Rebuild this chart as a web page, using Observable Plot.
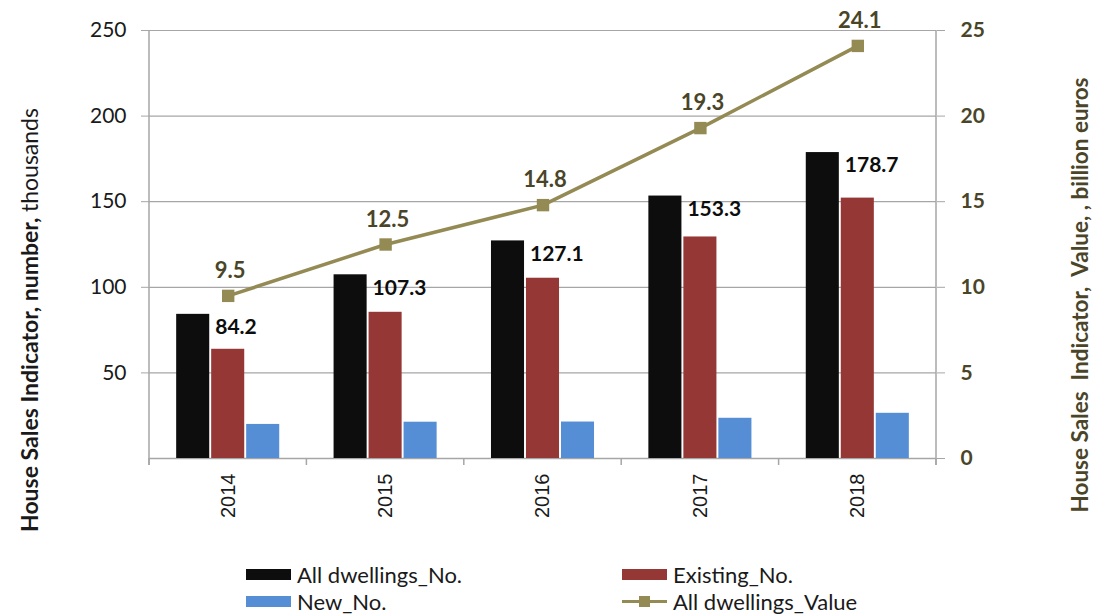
<!DOCTYPE html>
<html>
<head>
<meta charset="utf-8">
<script src="https://cdn.jsdelivr.net/npm/d3@7"></script>
<script src="https://cdn.jsdelivr.net/npm/@observablehq/plot@0.6"></script>
<style>
  html, body { margin: 0; padding: 0; background: #fff; }
  #wrap { position: relative; width: 1094px; height: 614px; overflow: hidden; }
  #legend { position: absolute; left: 0; top: 0; width: 1094px; height: 614px; pointer-events: none;
            font-family: Lato, "Open Sans", sans-serif; font-size: 22px; color: #1a1a1a; }
  .item { position: absolute; display: flex; align-items: center; height: 26px; }
  .sw { width: 45px; height: 11px; margin-right: 6px; }
  .ln { position: relative; width: 45px; height: 11px; margin-right: 6px; }
  .ln::before { content: ""; position: absolute; left: 0; right: 0; top: 4px; height: 3.5px; background: #948a54; }
  .ln::after { content: ""; position: absolute; left: 17px; top: 0; width: 11px; height: 11px; background: #948a54; }
  g.right-ticks text { font-weight: 700 !important; }
</style>
</head>
<body>
<div id="wrap"><div id="chart"></div><div id="legend"></div></div>
<script>
// ---- data ----
const years = ["2014", "2015", "2016", "2017", "2018"];
const allNo = [84.2, 107.3, 127.1, 153.3, 178.7];
const existingNo = [63.8, 85.4, 105.3, 129.4, 152.1];
const newNo = [19.9, 21.2, 21.3, 23.5, 26.4];
const allValue = [9.5, 12.5, 14.8, 19.3, 24.1];
const leftTicks = [50, 100, 150, 200, 250];
const rightTicks = [0, 5, 10, 15, 20, 25];
const axisRatio = 10; // 250 thousand on left axis == 25 billion on right axis

const seriesNames = ["All dwellings_No.", "Existing_No.", "New_No.", "All dwellings_Value"];
const colors = ["#0d0d0d", "#953735", "#558ed5", "#948a54"];

const rows = years.map((y, i) => ({
  year: y, all: allNo[i], existing: existingNo[i], nw: newNo[i], value: allValue[i]
}));

const grid = "#a6a6a6";
const olive = "#4a4528";
const calibri = "Lato, 'Open Sans', sans-serif";
const W = 1094, H = 550;

const plot = Plot.plot({
  width: W, height: H,
  marginLeft: 149, marginRight: 158, marginTop: 30, marginBottom: 92,
  style: { fontFamily: calibri, fontSize: "20px", color: "#1a1a1a", background: "#fff", overflow: "visible" },
  x: { type: "band", domain: years, paddingInner: 0.79, paddingOuter: 0.395, round: false },
  y: { domain: [0, 250], nice: false },
  marks: [
    Plot.gridY(leftTicks, { stroke: grid, strokeOpacity: 1, strokeWidth: 1.2 }),
    Plot.ruleY([0], { stroke: grid, strokeWidth: 1.5 }),
    Plot.axisY(leftTicks, { anchor: "left", tickSize: 8, tickPadding: 15, stroke: grid, strokeOpacity: 1, fill: "#1a1a1a", fontSize: 21, fontFamily: calibri, label: null }),
    Plot.axisY(rightTicks.map(v => v * axisRatio), {
      anchor: "right", tickSize: 8, stroke: grid, strokeOpacity: 1, text: null, label: null
    }),
    Plot.text(rightTicks, {
      y: d => d * axisRatio, text: d => String(d), frameAnchor: "right", dx: 24, textAnchor: "start",
      fill: olive, fontWeight: "bold", fontSize: 21, fontFamily: calibri, ariaLabel: "right-ticks"
    }),
    Plot.axisX({ tickSize: 0, tickRotate: -90, tickPadding: 15, fontSize: 20, fontFamily: "'Liberation Sans', Arial, sans-serif", label: null, fill: "#1a1a1a" }),
    Plot.barY(rows, { x: "year", y: "all", fill: colors[0], dx: -35 }),
    Plot.barY(rows, { x: "year", y: "existing", fill: colors[1] }),
    Plot.barY(rows, { x: "year", y: "nw", fill: colors[2], dx: 35 }),
    Plot.text(rows, {
      x: "year", y: "all", text: d => d.all.toFixed(1), dx: -13, dy: 13, textAnchor: "start",
      fill: "#0d0d0d", fontWeight: "bold", fontSize: 21, fontFamily: calibri
    }),
    Plot.lineY(rows, { x: "year", y: d => d.value * axisRatio, stroke: colors[3], strokeWidth: 3.5 }),
    Plot.dot(rows, { x: "year", y: d => d.value * axisRatio, symbol: "square", r: 7, fill: colors[3], stroke: "none" }),
    Plot.text(rows, {
      x: "year", y: d => d.value * axisRatio, text: d => d.value.toFixed(1), dx: 2, dy: -25,
      fill: olive, fontWeight: "bold", fontSize: 22, fontFamily: calibri
    })
  ]
});

document.getElementById("chart").appendChild(plot);

const svg = d3.select(plot);
// make sure the right-axis labels are bold
svg.selectAll('g[aria-label="right-ticks"]').classed("right-ticks", true)
  .attr("font-weight", "bold").selectAll("text").attr("font-weight", "bold");

// frame lines and category separators from the library's scales
const xs = plot.scale("x"), ys = plot.scale("y");
const g = svg.append("g").attr("stroke", grid).attr("stroke-width", 1.5);
const bounds = years.map(y => xs.apply(y) + xs.bandwidth / 2 - xs.step / 2);
bounds.push(bounds[bounds.length - 1] + xs.step);
const y0 = ys.apply(0), yTop = ys.apply(250);
bounds.forEach(b => g.append("line").attr("x1", b).attr("x2", b).attr("y1", y0).attr("y2", y0 + 7));
[bounds[0], bounds[bounds.length - 1]].forEach(b =>
  g.append("line").attr("x1", b).attr("x2", b).attr("y1", yTop).attr("y2", y0 + 7));

// axis titles
const lt = svg.append("text")
  .attr("transform", "translate(38,320) rotate(-90)")
  .attr("text-anchor", "middle")
  .attr("font-family", calibri).attr("font-size", 23).attr("fill", "#1a1a1a");
lt.append("tspan").attr("font-weight", "bold").text("House Sales Indicator, number, ");
lt.append("tspan").text("thousands");
svg.append("text")
  .attr("transform", "translate(1088,295) rotate(-90)")
  .attr("text-anchor", "middle")
  .attr("font-family", calibri).attr("font-size", 22.5)
  .attr("font-weight", "bold").attr("fill", olive)
  .text("House Sales  Indicator,  Value, , billion euros");

// legend
const legend = document.getElementById("legend");
const pos = [[246, 561], [622, 561], [246, 588], [622, 588]];
seriesNames.forEach((name, i) => {
  const it = document.createElement("div");
  it.className = "item";
  it.style.left = pos[i][0] + "px";
  it.style.top = pos[i][1] + "px";
  const sw = document.createElement("div");
  if (i === 3) { sw.className = "ln"; } else { sw.className = "sw"; sw.style.background = colors[i]; }
  it.appendChild(sw);
  const t = document.createElement("span");
  t.textContent = name;
  it.appendChild(t);
  legend.appendChild(it);
});
</script>
</body>
</html>
